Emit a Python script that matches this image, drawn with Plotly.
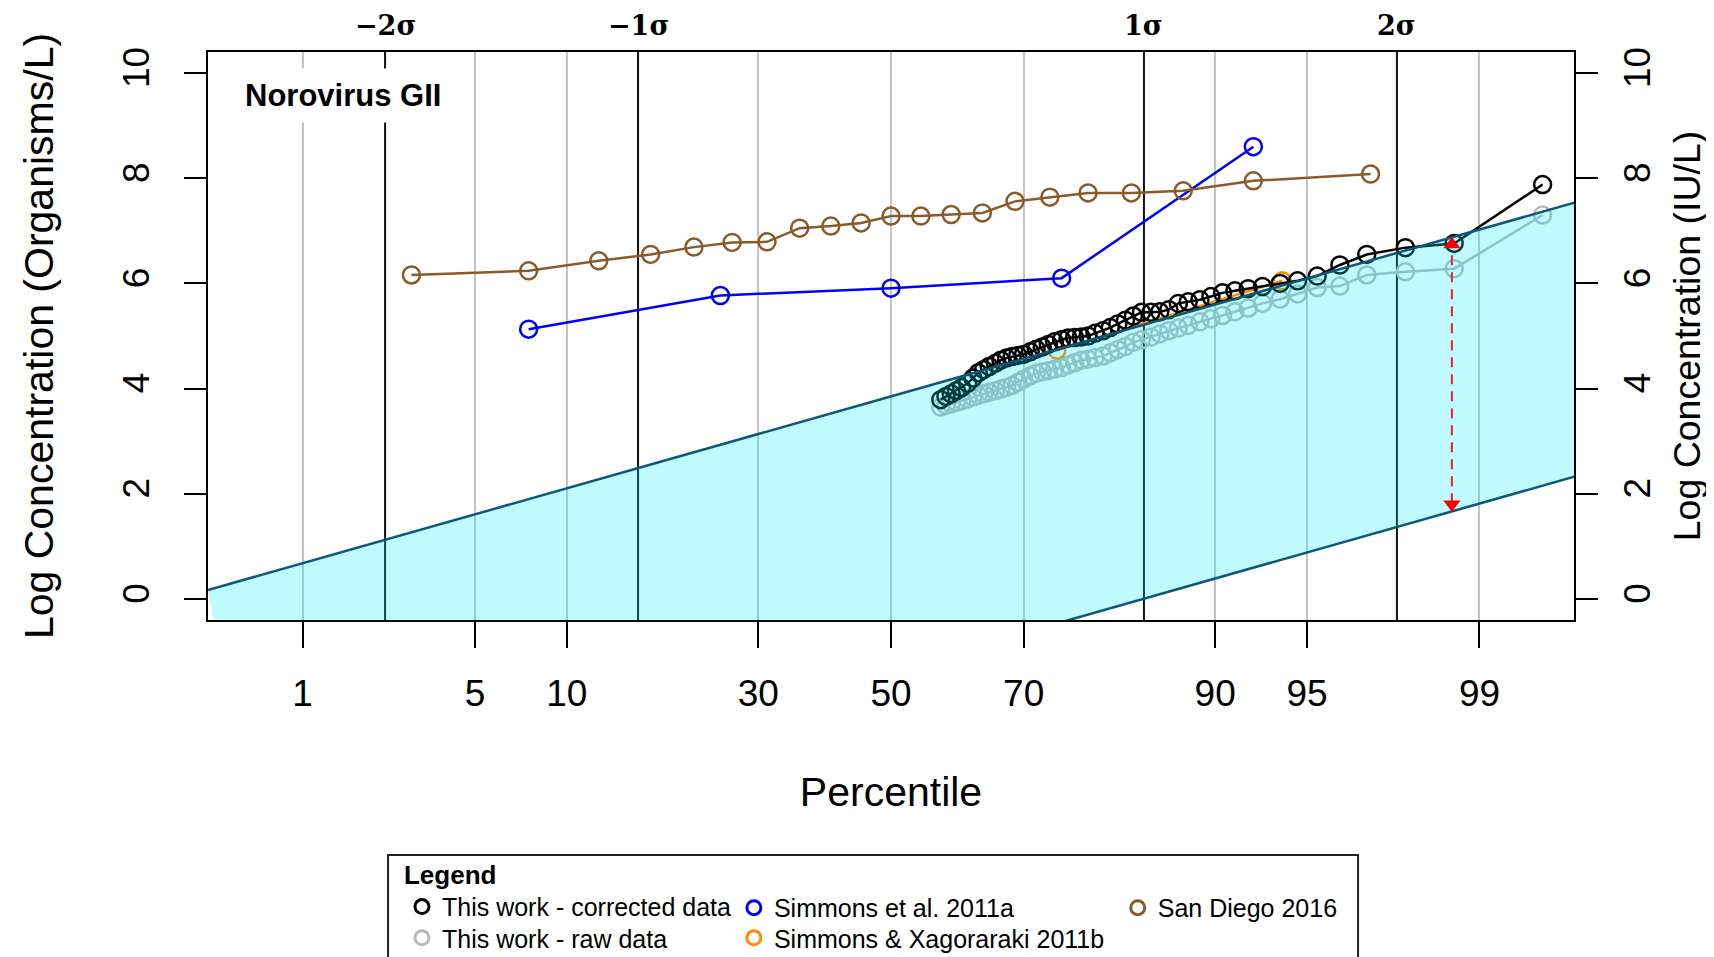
import plotly.graph_objects as go
from statistics import NormalDist

# ---------------- data ----------------
# percentile (plotting position) and log10 concentration
corrected_pct = [57.8, 58.6, 59.4, 60.2, 61.0, 61.9, 62.7, 63.5, 64.3, 65.1,
                 66.0, 66.8, 67.6, 68.4, 69.2, 70.0, 70.9, 71.7, 72.5, 73.3,
                 74.1, 75.0, 75.8, 76.6, 77.4, 78.2, 79.0, 79.9, 80.7, 81.5,
                 82.3, 83.1, 83.9, 84.8, 85.6, 86.4, 87.2, 88.0, 88.9, 89.7,
                 90.5, 91.3, 92.1, 92.9, 93.8, 94.6, 95.4, 96.2, 97.0, 97.9,
                 98.7, 99.5]
corrected_log = [3.79, 3.85, 3.90, 3.96, 4.02, 4.10, 4.20, 4.30, 4.36, 4.42,
                 4.48, 4.54, 4.58, 4.61, 4.63, 4.65, 4.70, 4.75, 4.79, 4.84,
                 4.89, 4.93, 4.96, 4.97, 4.98, 5.00, 5.05, 5.10, 5.16, 5.23,
                 5.30, 5.38, 5.45, 5.45, 5.46, 5.50, 5.62, 5.65, 5.69, 5.75,
                 5.82, 5.86, 5.90, 5.94, 6.00, 6.05, 6.14, 6.35, 6.55, 6.68,
                 6.76, 7.88]
raw_pct = corrected_pct
raw_log = [3.65, 3.68, 3.71, 3.74, 3.77, 3.80, 3.84, 3.87, 3.90, 3.93,
           3.96, 3.99, 4.02, 4.06, 4.12, 4.18, 4.24, 4.29, 4.32, 4.34,
           4.37, 4.40, 4.45, 4.49, 4.54, 4.56, 4.59, 4.62, 4.68, 4.74,
           4.80, 4.88, 4.93, 4.98, 5.04, 5.10, 5.15, 5.20, 5.27, 5.33,
           5.39, 5.46, 5.53, 5.62, 5.70, 5.80, 5.92, 5.95, 6.16, 6.22,
           6.28, 7.30]
simmons_a_pct = [7.6, 25.0, 50.0, 75.0, 92.4]
simmons_a_log = [5.13, 5.77, 5.91, 6.10, 8.60]
simmons_b_pct = [74.4, 93.9]
simmons_b_log = [4.73, 6.05]
sandiego_pct = [2.9, 7.6, 12.4, 17.1, 21.8, 26.5, 31.2, 35.9, 40.6, 45.3, 50.0,
                54.7, 59.4, 64.1, 68.8, 73.5, 78.2, 82.9, 87.6, 92.4, 97.1]
sandiego_log = [6.16, 6.24, 6.43, 6.55, 6.69, 6.78, 6.79, 7.05, 7.09, 7.15, 7.28,
                7.28, 7.31, 7.34, 7.56, 7.64, 7.72, 7.72, 7.76, 7.95, 8.08]

# shaded band (in normal-score units)
band_z = [-2.70, 2.80, 2.80, -2.50]
band_y = [0.17, 7.67, 2.46, -4.77]
# red arrow
arrow_pct = 98.67
arrow_top = 6.87
arrow_bottom = 1.67

pct_ticks = [1, 5, 10, 30, 50, 70, 90, 95, 99]
sigma_vals = [-2, -1, 0, 1, 2]
sigma_text = ["\u22122\u03c3", "\u22121\u03c3", "", "1\u03c3", "2\u03c3"]
y_ticks = [0, 2, 4, 6, 8, 10]

series_names = ["This work - corrected data", "This work - raw data",
                "Simmons et al. 2011a", "Simmons & Xagoraraki 2011b",
                "San Diego 2016"]
series_colors = ["#000000", "#b8b8b8", "#0000ff", "#ff8c00", "#8b5a2b"]

# ---------------- helpers ----------------
nd = NormalDist()


def zs(pcts):
    return [nd.inv_cdf(p / 100.0) for p in pcts]


SANS = "Liberation Sans, Arial, Helvetica, sans-serif"
fig = go.Figure()

MS = 17
LW = 2.5


def add_series(pct, vals, color, name):
    fig.add_trace(go.Scatter(
        x=zs(pct), y=vals, mode="lines+markers", name=name, showlegend=False,
        line=dict(color=color, width=2.5),
        marker=dict(symbol="circle-open", size=MS, color=color,
                    line=dict(width=LW, color=color)),
    ))


add_series(raw_pct, raw_log, series_colors[1], series_names[1])
add_series(simmons_b_pct, simmons_b_log, series_colors[3], series_names[3])
add_series(corrected_pct, corrected_log, series_colors[0], series_names[0])
add_series(simmons_a_pct, simmons_a_log, series_colors[2], series_names[2])
add_series(sandiego_pct, sandiego_log, series_colors[4], series_names[4])

# translucent band on top
fig.add_trace(go.Scatter(
    x=band_z, y=band_y, mode="lines", fill="toself",
    fillcolor="rgba(0,235,255,0.25)",
    line=dict(color="#0b5878", width=2.5), showlegend=False,
    hoverinfo="skip"))

# red dashed arrow
az = nd.inv_cdf(arrow_pct / 100.0)
fig.add_trace(go.Scatter(
    x=[az, az], y=[arrow_bottom + 0.15, arrow_top - 0.15], mode="lines",
    line=dict(color="#e8222a", width=2, dash="10px,7px"), showlegend=False))
fig.add_trace(go.Scatter(
    x=[az, az], y=[arrow_top - 0.13, arrow_bottom + 0.13], mode="markers",
    marker=dict(symbol=["triangle-up", "triangle-down"], size=15,
                color="#ff0000"), showlegend=False))

# legend-only entries: one legend box per cell of the 3x2 layout
legend_ids = {0: "legend", 2: "legend2", 4: "legend3", 1: "legend4",
              3: "legend5"}
for i in [0, 2, 4, 1, 3]:
    fig.add_trace(go.Scatter(
        x=[None], y=[None], mode="markers", name=series_names[i],
        legend=legend_ids[i],
        marker=dict(symbol="circle-open", size=14, color=series_colors[i],
                    line=dict(width=3, color=series_colors[i]))))

# right-hand axis carrier
fig.add_trace(go.Scatter(x=[None], y=[None], yaxis="y2", showlegend=False))

# sigma lines
shapes = []
for s in sigma_vals:
    shapes.append(dict(type="line", xref="x", yref="paper", x0=s, x1=s,
                       y0=0, y1=1, layer="between",
                       line=dict(color="#111111", width=2)))
# legend frame
shapes.append(dict(type="rect", xref="paper", yref="paper",
                   x0=0.1318, x1=0.8419, y0=-0.4137, y1=-0.70,
                   line=dict(color="#222222", width=2)))

annotations = []
for s, t in zip(sigma_vals, sigma_text):
    if t:
        annotations.append(dict(
            x=s, xref="x", y=1, yref="paper", yanchor="bottom", yshift=9,
            text="<b>" + t + "</b>", showarrow=False,
            font=dict(family="DejaVu Serif, serif", size=27, color="#000")))
annotations.append(dict(
    x=0.0198, xref="paper", y=0.9227, yref="paper", xanchor="left",
    yanchor="middle", text="<b>Norovirus GII</b>", showarrow=False,
    bgcolor="white", borderpad=9,
    font=dict(family=SANS, size=31, color="#000")))

axis_font = dict(family=SANS, size=37, color="#000")
leg_font = dict(family=SANS, size=25, color="#000")


def leg(x, y, title=None):
    d = dict(x=x, y=y, xanchor="left", yanchor="top",
             bgcolor="rgba(0,0,0,0)", font=leg_font, tracegroupgap=0)
    if title:
        d["title"] = dict(text=title, font=dict(family=SANS, size=26))
    return d


# page has an 8px body margin: figure is sized to fit the window exactly
fig.update_layout(
    width=1706, height=949,
    margin=dict(l=200, r=140, t=44, b=337, autoexpand=False),
    paper_bgcolor="white", plot_bgcolor="white",
    font=dict(family=SANS, color="#000"),
    shapes=shapes, annotations=annotations,
    xaxis=dict(range=[-2.7, 2.7], tickvals=zs(pct_ticks),
               ticktext=[str(p) for p in pct_ticks],
               ticks="outside", ticklen=26, tickwidth=2, tickcolor="#000",
               showgrid=True, gridcolor="#c4c4c4", gridwidth=2,
               showline=True, linecolor="#000", linewidth=2, mirror=True,
               zeroline=False, tickfont=axis_font,
               ticklabelstandoff=14,
               title=dict(text="Percentile",
                          font=dict(family=SANS, size=41, color="#000"),
                          standoff=64)),
    yaxis=dict(range=[-0.4, 10.4], tickvals=y_ticks, ticks="outside",
               ticklen=22, tickwidth=2, tickcolor="#000", tickangle=-90,
               showgrid=False, zeroline=False, showline=True,
               linecolor="#000", linewidth=2, mirror=True,
               tickfont=axis_font, ticklabelstandoff=20,
               title=dict(text="Log Concentration (Organisms/L)",
                          font=dict(family=SANS, size=41, color="#000"),
                          standoff=50)),
    yaxis2=dict(range=[-0.4, 10.4], tickvals=y_ticks, ticks="outside",
                ticklen=22, tickwidth=2, tickcolor="#000", tickangle=-90,
                overlaying="y", side="right", showgrid=False, zeroline=False,
                showline=True, linecolor="#000", linewidth=2,
                tickfont=axis_font, ticklabelstandoff=8,
                title=dict(text="Log Concentration (IU/L)",
                           font=dict(family=SANS, size=37.5, color="#000"),
                           standoff=16)),
    legend=leg(0.142, -0.405, "<b>Legend</b>"),
    legend2=leg(0.385, -0.4665),
    legend3=leg(0.666, -0.4665),
    legend4=leg(0.142, -0.5194),
    legend5=leg(0.385, -0.5194),
    showlegend=True,
)

fig.write_html("out.html")
